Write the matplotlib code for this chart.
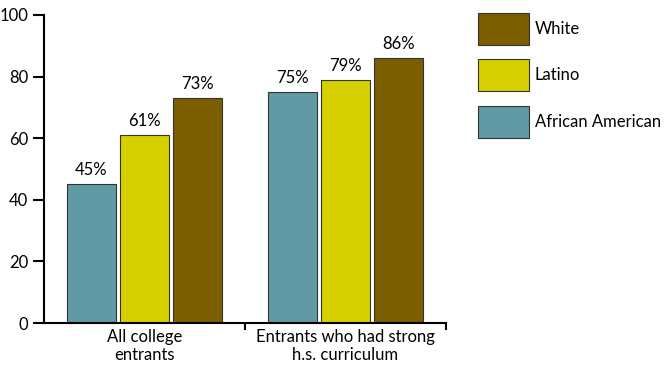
import matplotlib.pyplot as plt
import numpy as np

# данные
categories = ['All college\nentrants', 'Entrants who had strong\nh.s. curriculum']
series = ['African American', 'Latino', 'White']
african_american = [45, 75]
latino = [61, 79]
white = [73, 86]
colors = ['#5F9AA5', '#D6D000', '#7A5E00']

plt.rcParams['font.family'] = ['Lato', 'DejaVu Sans']

fig = plt.figure(figsize=(6.66, 3.70), dpi=100)
ax = fig.add_axes([44 / 666, 47 / 370, 402 / 666, 308 / 370])

x = np.arange(len(categories))
width = 0.244
step = 0.264
values = [african_american, latino, white]
handles = []
for i, (name, vals, c) in enumerate(zip(series, values, colors)):
    pos = x + (i - 1) * step
    bars = ax.bar(pos, vals, width=width, color=c, edgecolor='#333333', linewidth=0.8, label=name)
    handles.append(bars)
    for p, v in zip(pos, vals):
        ax.text(p, v + 2, f'{v}%', ha='center', va='bottom', fontsize=12)

ax.set_xlim(-0.5, len(categories) - 0.5)
ax.set_ylim(0, 100)
ax.set_yticks([0, 20, 40, 60, 80, 100])
ax.tick_params(axis='y', labelsize=12, length=8, width=1.5, direction='out')
ax.set_xticks(x)
ax.set_xticklabels(categories, fontsize=12)
ax.tick_params(axis='x', length=0, pad=4)
ax.set_xticks([0.5, 1.5], minor=True)
ax.tick_params(axis='x', which='minor', length=5, width=1.5, direction='out')
for s in ['top', 'right']:
    ax.spines[s].set_visible(False)
ax.spines['left'].set_linewidth(1.5)
ax.spines['bottom'].set_linewidth(1.5)

leg = fig.legend(handles[::-1], series[::-1], loc='upper left', bbox_to_anchor=(476 / 666, 1 - 11 / 370),
                 frameon=False, fontsize=12, handlelength=3.05, handleheight=2.58,
                 labelspacing=0.87, handletextpad=0.37, borderaxespad=0, borderpad=0.1)

plt.savefig('out.png', dpi=100)
